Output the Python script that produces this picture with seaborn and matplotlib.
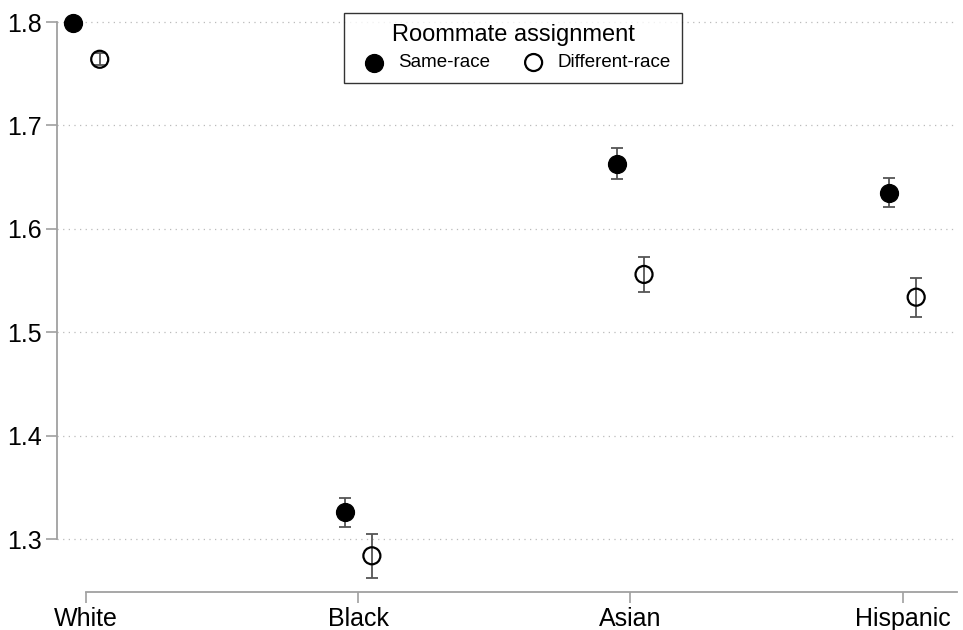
import numpy as np
import pandas as pd
import seaborn as sns
import matplotlib.pyplot as plt

# values
races = ["White", "Black", "Asian", "Hispanic"]
same_mean = [1.799, 1.326, 1.663, 1.635]
same_err = [0.003, 0.014, 0.015, 0.014]
diff_mean = [1.764, 1.284, 1.556, 1.534]
diff_err = [0.006, 0.021, 0.017, 0.019]
groups = ["Same-race", "Different-race"]

sns.set_theme(style="white")
plt.rcParams["font.family"] = ["Liberation Sans", "DejaVu Sans"]
plt.rcParams["text.color"] = "black"

rows = []
for i, r in enumerate(races):
    rows.append({"race": r, "pos": i - 0.05, "grp": groups[0], "y": same_mean[i], "err": same_err[i]})
    rows.append({"race": r, "pos": i + 0.05, "grp": groups[1], "y": diff_mean[i], "err": diff_err[i]})
df = pd.DataFrame(rows)

fig = plt.figure(figsize=(9.63, 6.30), dpi=100)
ax = fig.add_axes([57 / 963, 1 - 592 / 630, 900 / 963, 586 / 630])

# gridlines
for t in [1.3, 1.4, 1.5, 1.6, 1.7, 1.8]:
    ax.axhline(t, color="#bbbbbb", lw=0.9, ls=(0, (1, 3.5)), zorder=0)

ax.errorbar(df["pos"], df["y"], yerr=df["err"], fmt="none", ecolor="#555555",
            elinewidth=1.3, capsize=4, capthick=1.3, zorder=2)

same = df[df["grp"] == groups[0]]
diff = df[df["grp"] == groups[1]]
sns.scatterplot(data=same, x="pos", y="y", ax=ax, s=165, color="black",
                edgecolor="black", linewidth=1.0, label=groups[0], zorder=3)
sns.scatterplot(data=diff, x="pos", y="y", ax=ax, s=150, facecolor="none",
                edgecolor="black", linewidth=1.6, label=groups[1], zorder=3)

ax.set_xlim(-0.107, 3.2)
ax.set_ylim(1.249, 1.8155)
ax.set_xticks(range(len(races)))
ax.set_xticklabels(races)
ax.set_yticks([1.3, 1.4, 1.5, 1.6, 1.7, 1.8])
ax.set_yticklabels(["1.3", "1.4", "1.5", "1.6", "1.7", "1.8"])
ax.set_xlabel("")
ax.set_ylabel("")

for s in ["top", "right"]:
    ax.spines[s].set_visible(False)
for s in ["left", "bottom"]:
    ax.spines[s].set_color("#a0a0a0")
    ax.spines[s].set_linewidth(1.3)
ax.spines["left"].set_bounds(1.3, 1.8)
ax.spines["bottom"].set_bounds(0, 3.2)

ax.tick_params(axis="both", which="major", direction="out", length=8, width=1.2,
               color="#a0a0a0", labelsize=18, labelcolor="black", pad=3,
               bottom=True, left=True)

leg = ax.legend(title="Roommate assignment", ncol=2, loc="upper center",
                bbox_to_anchor=(0.507, 0.9885), borderaxespad=0, frameon=True,
                fancybox=False, fontsize=13.5, title_fontsize=17,
                handletextpad=0.3, columnspacing=1.3, borderpad=0.6,
                labelspacing=0.3, markerscale=1.0)
leg.get_frame().set_edgecolor("black")
leg.get_frame().set_linewidth(1.0)
leg.get_title().set_color("black")
for t in leg.get_texts():
    t.set_color("black")
leg._legend_box.sep = 6

fig.savefig("out.png", dpi=100)
